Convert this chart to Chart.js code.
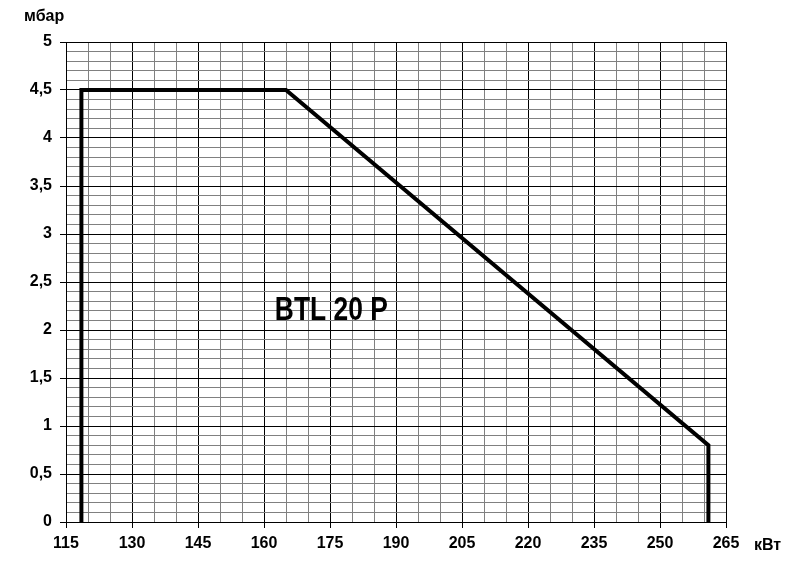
<!DOCTYPE html>
<html><head><meta charset="utf-8">
<script src="https://cdn.jsdelivr.net/npm/chart.js@4"></script>
<style>html,body{margin:0;padding:0;background:#fff;}#wrap{width:794px;height:567px;}</style>
</head><body><div id="wrap"><canvas id="c" width="794" height="567"></canvas></div>
<script>
const powerKW = [118.5, 118.5, 165, 261, 261];
const pressureMbar = [0, 4.5, 4.5, 0.8, 0];
const xMin = 115, xMax = 265, xMajor = 15, xMinor = 5;
const yMin = 0, yMax = 5, yMajor = 0.5, yMinor = 0.1;
const chartTitle = 'BTL 20 P';
const yUnit = 'мбар';
const xUnit = 'кВт';

const FONT = '"Liberation Sans", Arial, sans-serif';
function isMajorX(v){ return Math.abs(((v - xMin) / xMajor) - Math.round((v - xMin) / xMajor)) < 1e-6; }
function isMajorY(v){ return Math.abs((v / yMajor) - Math.round(v / yMajor)) < 1e-6; }

const textPlugin = {
  id: 'texts',
  afterDraw(chart){
    const c = chart.ctx;
    c.save();
    c.fillStyle = '#000';
    c.font = 'bold 16px ' + FONT;
    c.textAlign = 'left'; c.textBaseline = 'middle';
    c.fillText(yUnit, 24, 17);
    c.fillText(xUnit, 754, 546);
    const xs = chart.scales.x, ys = chart.scales.y;
    const cx = xs.getPixelForValue(175.3), cy = ys.getPixelForValue(2.2);
    c.translate(cx, cy);
    c.scale(0.8, 1);
    c.font = 'bold 33px ' + FONT;
    c.textAlign = 'center';
    c.fillText(chartTitle, 0, 0);
    c.restore();
  }
};

new Chart(document.getElementById('c'), {
  type: 'scatter',
  data: { datasets: [{
    data: powerKW.map((x, i) => ({ x: x, y: pressureMbar[i] })),
    showLine: true, borderColor: '#000', borderWidth: 4, pointRadius: 0,
    borderJoinStyle: 'miter', borderCapStyle: 'butt', tension: 0
  }]},
  options: {
    responsive: false, animation: false,
    plugins: { legend: { display: false }, tooltip: { enabled: false } },
    layout: { padding: { left: 0, top: 42, right: 68, bottom: 0 } },
    scales: {
      x: {
        type: 'linear', min: xMin, max: xMax,
        afterFit(s){ s.height = 45; },
        border: { color: '#000', width: 1 },
        grid: {
          color: ctx => isMajorX(ctx.tick.value) ? '#000' : '#808080',
          tickColor: ctx => isMajorX(ctx.tick.value) ? '#000' : 'rgba(0,0,0,0)',
          tickLength: 6, lineWidth: 1
        },
        ticks: {
          stepSize: xMinor, autoSkip: false, maxTicksLimit: 200, maxRotation: 0,
          color: '#000', padding: 6, font: { family: FONT, size: 16, weight: 'bold' },
          callback: v => isMajorX(v) ? String(Math.round(v)) : ''
        }
      },
      y: {
        type: 'linear', min: yMin, max: yMax,
        afterFit(s){ s.width = 66; },
        border: { color: '#000', width: 1 },
        grid: {
          color: ctx => isMajorY(ctx.tick.value) ? '#000' : '#808080',
          tickColor: ctx => isMajorY(ctx.tick.value) ? '#000' : 'rgba(0,0,0,0)',
          tickLength: 6, lineWidth: 1
        },
        ticks: {
          stepSize: yMinor, autoSkip: false, maxTicksLimit: 200,
          color: '#000', padding: 8, font: { family: FONT, size: 16, weight: 'bold' },
          callback: v => isMajorY(v) ? String(Math.round(v * 10) / 10).replace('.', ',') : ''
        }
      }
    }
  },
  plugins: [textPlugin]
});
</script></body></html>
